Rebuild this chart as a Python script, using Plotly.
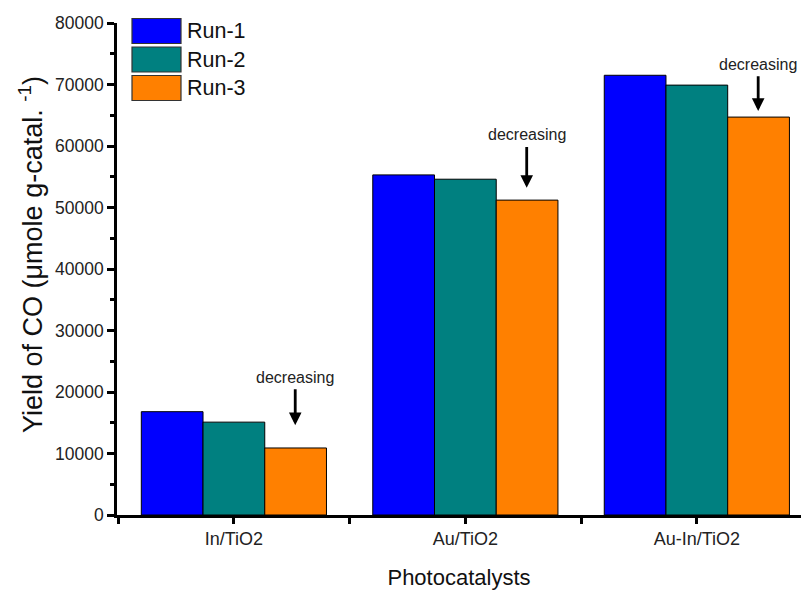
import plotly.graph_objects as go

categories = ["In/TiO2", "Au/TiO2", "Au-In/TiO2"]
series_names = ["Run-1", "Run-2", "Run-3"]
run1 = [16800, 55300, 71500]
run2 = [15100, 54600, 69900]
run3 = [10900, 51200, 64700]
colors = ["#0000FF", "#008080", "#FF8000"]
y_ticks = [0, 10000, 20000, 30000, 40000, 50000, 60000, 70000, 80000]
arrow_tip = [14600, 53200, 65700]
arrow_text_y = [22400, 61800, 73300]

FONT = "Liberation Sans, Arial, sans-serif"
xpos = list(range(len(categories)))

fig = go.Figure()
for name, vals, col in zip(series_names, [run1, run2, run3], colors):
    fig.add_trace(go.Bar(
        x=xpos, y=vals, name=name,
        marker=dict(color=col, line=dict(color="#000000", width=1)),
        showlegend=False,
    ))

# annotations "decreasing" with arrows
for i, (tip, ty) in enumerate(zip(arrow_tip, arrow_text_y)):
    xa = xpos[i] + 0.265
    fig.add_annotation(
        x=xa, y=tip, ax=xa, ay=ty, axref="x", ayref="y", xref="x", yref="y",
        text="decreasing", showarrow=True, arrowhead=2, arrowsize=0.9,
        arrowwidth=2.8, arrowcolor="#000000", standoff=0, startstandoff=2,
        font=dict(family=FONT, size=16, color="#222222"),
    )

# manual legend
leg_top = 18.5
box_h = 25
gap = 3.5
for k, (name, col) in enumerate(zip(series_names, colors)):
    y0 = leg_top + k * (box_h + gap)
    fig.add_shape(type="rect", xref="paper", yref="paper",
                  x0=(132 - 117) / 684, x1=(181 - 117) / 684,
                  y0=1 - (y0 + box_h - 23) / 492, y1=1 - (y0 - 23) / 492,
                  fillcolor=col, line=dict(color="#333333", width=1.2))
    fig.add_annotation(xref="paper", yref="paper",
                       x=(185 - 117) / 684, y=1 - (y0 + box_h / 2 - 23) / 492,
                       text=name, showarrow=False, xanchor="left", yanchor="middle",
                       font=dict(family=FONT, size=21.5, color="#111111"))

# y-axis title as rotated annotation
fig.add_annotation(xref="paper", yref="paper",
                   x=(31 - 117) / 684, y=1 - (255 - 23) / 492,
                   text="Yield of CO (μmole g-catal. <sup>-1</sup>)", textangle=-90,
                   showarrow=False, xanchor="center", yanchor="middle",
                   font=dict(family=FONT, size=27, color="#111111"))

fig.update_layout(
    width=801, height=590,
    margin=dict(l=117, r=0, t=23, b=75),
    paper_bgcolor="white", plot_bgcolor="white",
    barmode="group", bargap=0.2, bargroupgap=0,
    font=dict(family=FONT, color="#222222"),
    xaxis=dict(
        range=[-0.505, 2.45], tickvals=xpos, ticktext=categories,
        ticks="outside", ticklen=6, tickwidth=2.5, tickcolor="#000000",
        showline=True, linecolor="#000000", linewidth=2.5,
        showgrid=False, zeroline=False,
        tickfont=dict(family=FONT, size=18, color="#222222"),
        minor=dict(tick0=0.5, dtick=1, ticks="outside", ticklen=6, tickwidth=2.5, tickcolor="#000000"),
        title=dict(text="Photocatalysts", font=dict(family=FONT, size=22, color="#111111"), standoff=22),
    ),
    yaxis=dict(
        range=[0, 80000], tickvals=y_ticks, ticktext=[str(v) for v in y_ticks],
        ticks="outside", ticklen=7, tickwidth=2.5, tickcolor="#000000",
        showline=True, linecolor="#000000", linewidth=2.5,
        showgrid=False, zeroline=False,
        tickfont=dict(family=FONT, size=17.5, color="#222222"),
        minor=dict(dtick=5000, tick0=0, ticks="outside", ticklen=4, tickwidth=2.5, tickcolor="#000000"),
    ),
)

fig.write_html("out.html", config={"displayModeBar": False},
               post_script="document.body.style.margin='0';document.body.style.overflow='hidden';")
